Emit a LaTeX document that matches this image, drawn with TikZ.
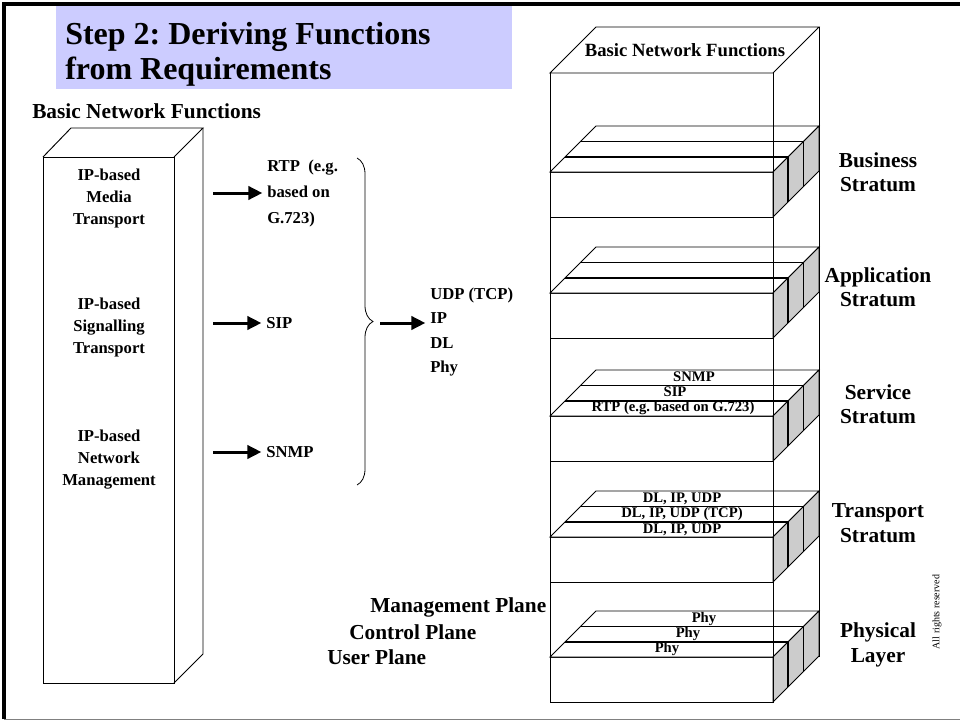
\documentclass[tikz,border=0pt]{standalone}
\usepackage{fontspec}
\setmainfont{Liberation Serif}
\usetikzlibrary{arrows.meta,decorations.pathreplacing}
\definecolor{titlefill}{HTML}{CCCCFF}
\definecolor{sidegray}{HTML}{CCCCCC}
\frenchspacing

\begin{document}
\begin{tikzpicture}[x=0.75pt, y=-0.75pt,
  %% Outline of the 3-D boxes
  boxline/.style={draw, line width=0.7pt},
  %% Bold serif labels
  lbl/.style={inner sep=0pt, font=\fontsize{12.5}{16.5}\selectfont\bfseries},
  %% Labels on the slab strips
  striplbl/.style={inner sep=0pt, font=\fontsize{11}{11}\selectfont\bfseries},
  %% Stratum names on the right
  stratlbl/.style={inner sep=0pt, align=center,
                   font=\fontsize{16}{18.4}\selectfont\bfseries},
  %% Plane names
  planelbl/.style={inner sep=0pt, anchor=west,
                   font=\fontsize{16}{18}\selectfont\bfseries},
  %% Thick black arrow
  arr/.style={-{Triangle[length=10.5pt, width=10pt]}, line width=2.25pt,
              shorten >=3.5pt},
  %% Curly brace
  brace/.style={decorate, decoration={brace, amplitude=12pt}, line width=0.6pt}
]
\useasboundingbox (0,0) rectangle (960,721);

%% ── Slide frame and title ──────────────────────────────────────────────
\draw[line width=2.5pt] (4,719) -- (4,4) -- (960,4);
\draw[gray, line width=1pt] (4,719.5) -- (960,719.5);
\fill[titlefill] (56,6) rectangle (512,89);
\node[lbl, font=\fontsize{24}{26.25}\selectfont\bfseries, align=left,
      anchor=north west] (title) at (65,22)
  {Step 2: Deriving Functions\\from Requirements};

%% ── Left column: the three transport functions ─────────────────────────
\node[lbl, font=\fontsize{16}{18}\selectfont\bfseries, anchor=west]
  (bnfleft) at (32,111) {Basic Network Functions};
\draw[boxline] (43,157) rectangle (174,683);
\draw[boxline] (43,157) -- (71,128) -- (203,128) -- (174,157);
\draw[boxline] (203,128) -- (203,654) -- (174,683);

\node[lbl, align=center] (media) at (109,198) {IP-based\\Media\\Transport};
\node[lbl, align=center] (signal) at (109,327) {IP-based\\Signalling\\Transport};
\node[lbl, align=center] (manage) at (109,460) {IP-based\\Network\\Management};

%% ── Derived protocols ──────────────────────────────────────────────────
\node[lbl, align=left, anchor=west, font=\fontsize{12.5}{19.5}\selectfont\bfseries]
  (rtp) at (267,193) {RTP~~(e.g.\\based on\\G.723)};
\node[lbl, anchor=west] (sip) at (266,323) {SIP};
\node[lbl, anchor=west] (snmp) at (266,452) {SNMP};

\coordinate (a1) at (213,193);
\coordinate (a2) at (213,323);
\coordinate (a3) at (213,452);
\draw[arr] (a1) -- (rtp.west);
\draw[arr] (a2) -- (sip.west);
\draw[arr] (a3) -- (snmp.west);

%% Brace that gathers the three protocols
\coordinate (brtop) at (357,158);
\coordinate (brbot) at (357,485);
\draw[brace] (brtop) -- (brbot);

\node[lbl, align=left, anchor=west, font=\fontsize{12.5}{18.4}\selectfont\bfseries]
  (stack) at (430,332) {UDP (TCP)\\IP\\DL\\Phy};
\coordinate (brtip) at (380,323);
\draw[arr] (brtip) -- (brtip -| stack.west);

%% ── Right column: network functions split into strata ──────────────────
\draw[boxline, fill=white] (550,73) -- (596,27) -- (819,27) -- (773,73) -- cycle;
\node[lbl, font=\fontsize{14}{16}\selectfont\bfseries] (bnfright) at (685,50)
  {Basic Network Functions};

%% One slab per stratum: front face, top face, grey side, two inner planes
\foreach \t in {172,293,416,537,657}{
  \draw[boxline, fill=white] (550,\t) rectangle (773,\t+45);
  \draw[boxline, fill=white] (550,\t) -- (596,\t-46) -- (819,\t-46) -- (773,\t) -- cycle;
  \draw[boxline, fill=sidegray] (773,\t) -- (819,\t-46) -- (819,\t-1) -- (773,\t+45) -- cycle;
  \draw[boxline, line width=1.4pt] (565.3,\t-15.3) -- (788.3,\t-15.3) -- (788.3,\t+29.7);
  \draw[boxline] (580.7,\t-30.7) -- (803.7,\t-30.7) -- (803.7,\t+14.3);
}
\draw[boxline] (550,73) -- (550,703);
\draw[boxline] (773,73) -- (773,703);
\draw[boxline] (819,27) -- (819,657);

%% Functions on the service slab
\node[striplbl] (svcsnmp) at (694,377) {SNMP};
\node[striplbl] (svcsip)  at (675,392) {SIP};
\node[striplbl] (svcrtp)  at (673,408.5) {RTP (e.g. based on G.723)};
%% Functions on the transport slab
\node[striplbl] (trmgmt) at (682,498.5) {DL, IP, UDP};
\node[striplbl] (trctrl) at (682,514) {DL, IP, UDP (TCP)};
\node[striplbl] (truser) at (682,529.5) {DL, IP, UDP};
%% Functions on the physical slab
\node[striplbl] (phymgmt) at (704,619) {Phy};
\node[striplbl] (phyctrl) at (688,634) {Phy};
\node[striplbl] (phyuser) at (667,649) {Phy};

%% Stratum names
\node[stratlbl] (business)    at (878,172) {Business\\Stratum};
\node[stratlbl] (application) at (878,287) {Application\\Stratum};
\node[stratlbl] (service)     at (878,404) {Service\\Stratum};
\node[stratlbl] (transport)   at (878,523) {Transport\\Stratum};
\node[stratlbl] (physical)    at (878,645) {Physical\\Layer};

%% Plane names
\node[planelbl] (mgmtplane) at (370,607) {Management Plane};
\node[planelbl] (ctrlplane) at (349,632) {Control Plane};
\node[planelbl] (userplane) at (327,657) {User Plane};

\node[rotate=90, inner sep=0pt, font=\fontsize{7.5}{9}\selectfont]
  (rights) at (937,612) {All rights reserved};

\end{tikzpicture}
\end{document}
